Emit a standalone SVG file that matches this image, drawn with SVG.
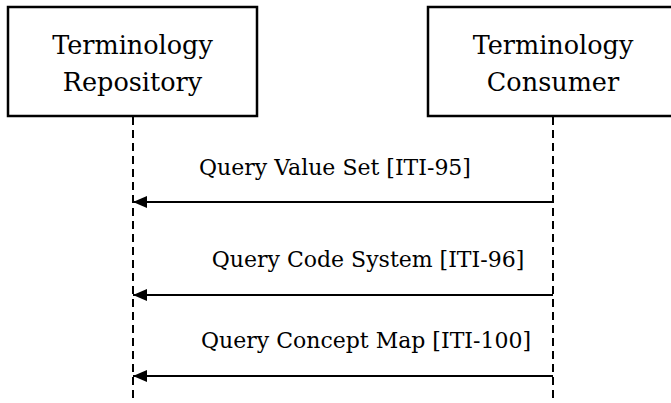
<svg xmlns="http://www.w3.org/2000/svg" width="671" height="403" viewBox="0 0 671 403">
<style>
.box{fill:#fff;stroke:#000;stroke-width:2.5}
.t{font-family:"DejaVu Serif","Liberation Serif",serif;fill:#000;text-anchor:middle}
.nt{font-size:25.5px}
.lt{font-size:22px}
.life{stroke:#000;stroke-width:2;stroke-dasharray:8 5;fill:none}
.msg{stroke:#000;stroke-width:2;fill:none}
</style>
<defs>
<marker id="ah" markerWidth="14" markerHeight="12" refX="14" refY="6" orient="auto" markerUnits="userSpaceOnUse">
<path d="M0,0 L14,6 L0,12 Z" fill="#000"/>
</marker>
</defs>
<g id="repository">
<rect class="box" x="8" y="7" width="249" height="109"/>
<text class="t nt" x="132.5" y="54">Terminology</text>
<text class="t nt" x="132.5" y="91">Repository</text>
</g>
<g id="consumer">
<rect class="box" x="428" y="7" width="250" height="109"/>
<text class="t nt" x="553" y="54">Terminology</text>
<text class="t nt" x="553" y="91">Consumer</text>
</g>
<g id="connectors">
<line class="life" x1="133" y1="117" x2="133" y2="403"/>
<line class="life" x1="553" y1="117" x2="553" y2="403"/>
<line class="msg" x1="553" y1="202" x2="133" y2="202" marker-end="url(#ah)"/>
<line class="msg" x1="553" y1="295" x2="133" y2="295" marker-end="url(#ah)"/>
<line class="msg" x1="553" y1="376" x2="133" y2="376" marker-end="url(#ah)"/>
<text class="t lt" x="335" y="175">Query Value Set [ITI-95]</text>
<text class="t lt" x="368" y="267">Query Code System [ITI-96]</text>
<text class="t lt" x="366" y="348">Query Concept Map [ITI-100]</text>
</g>
</svg>
